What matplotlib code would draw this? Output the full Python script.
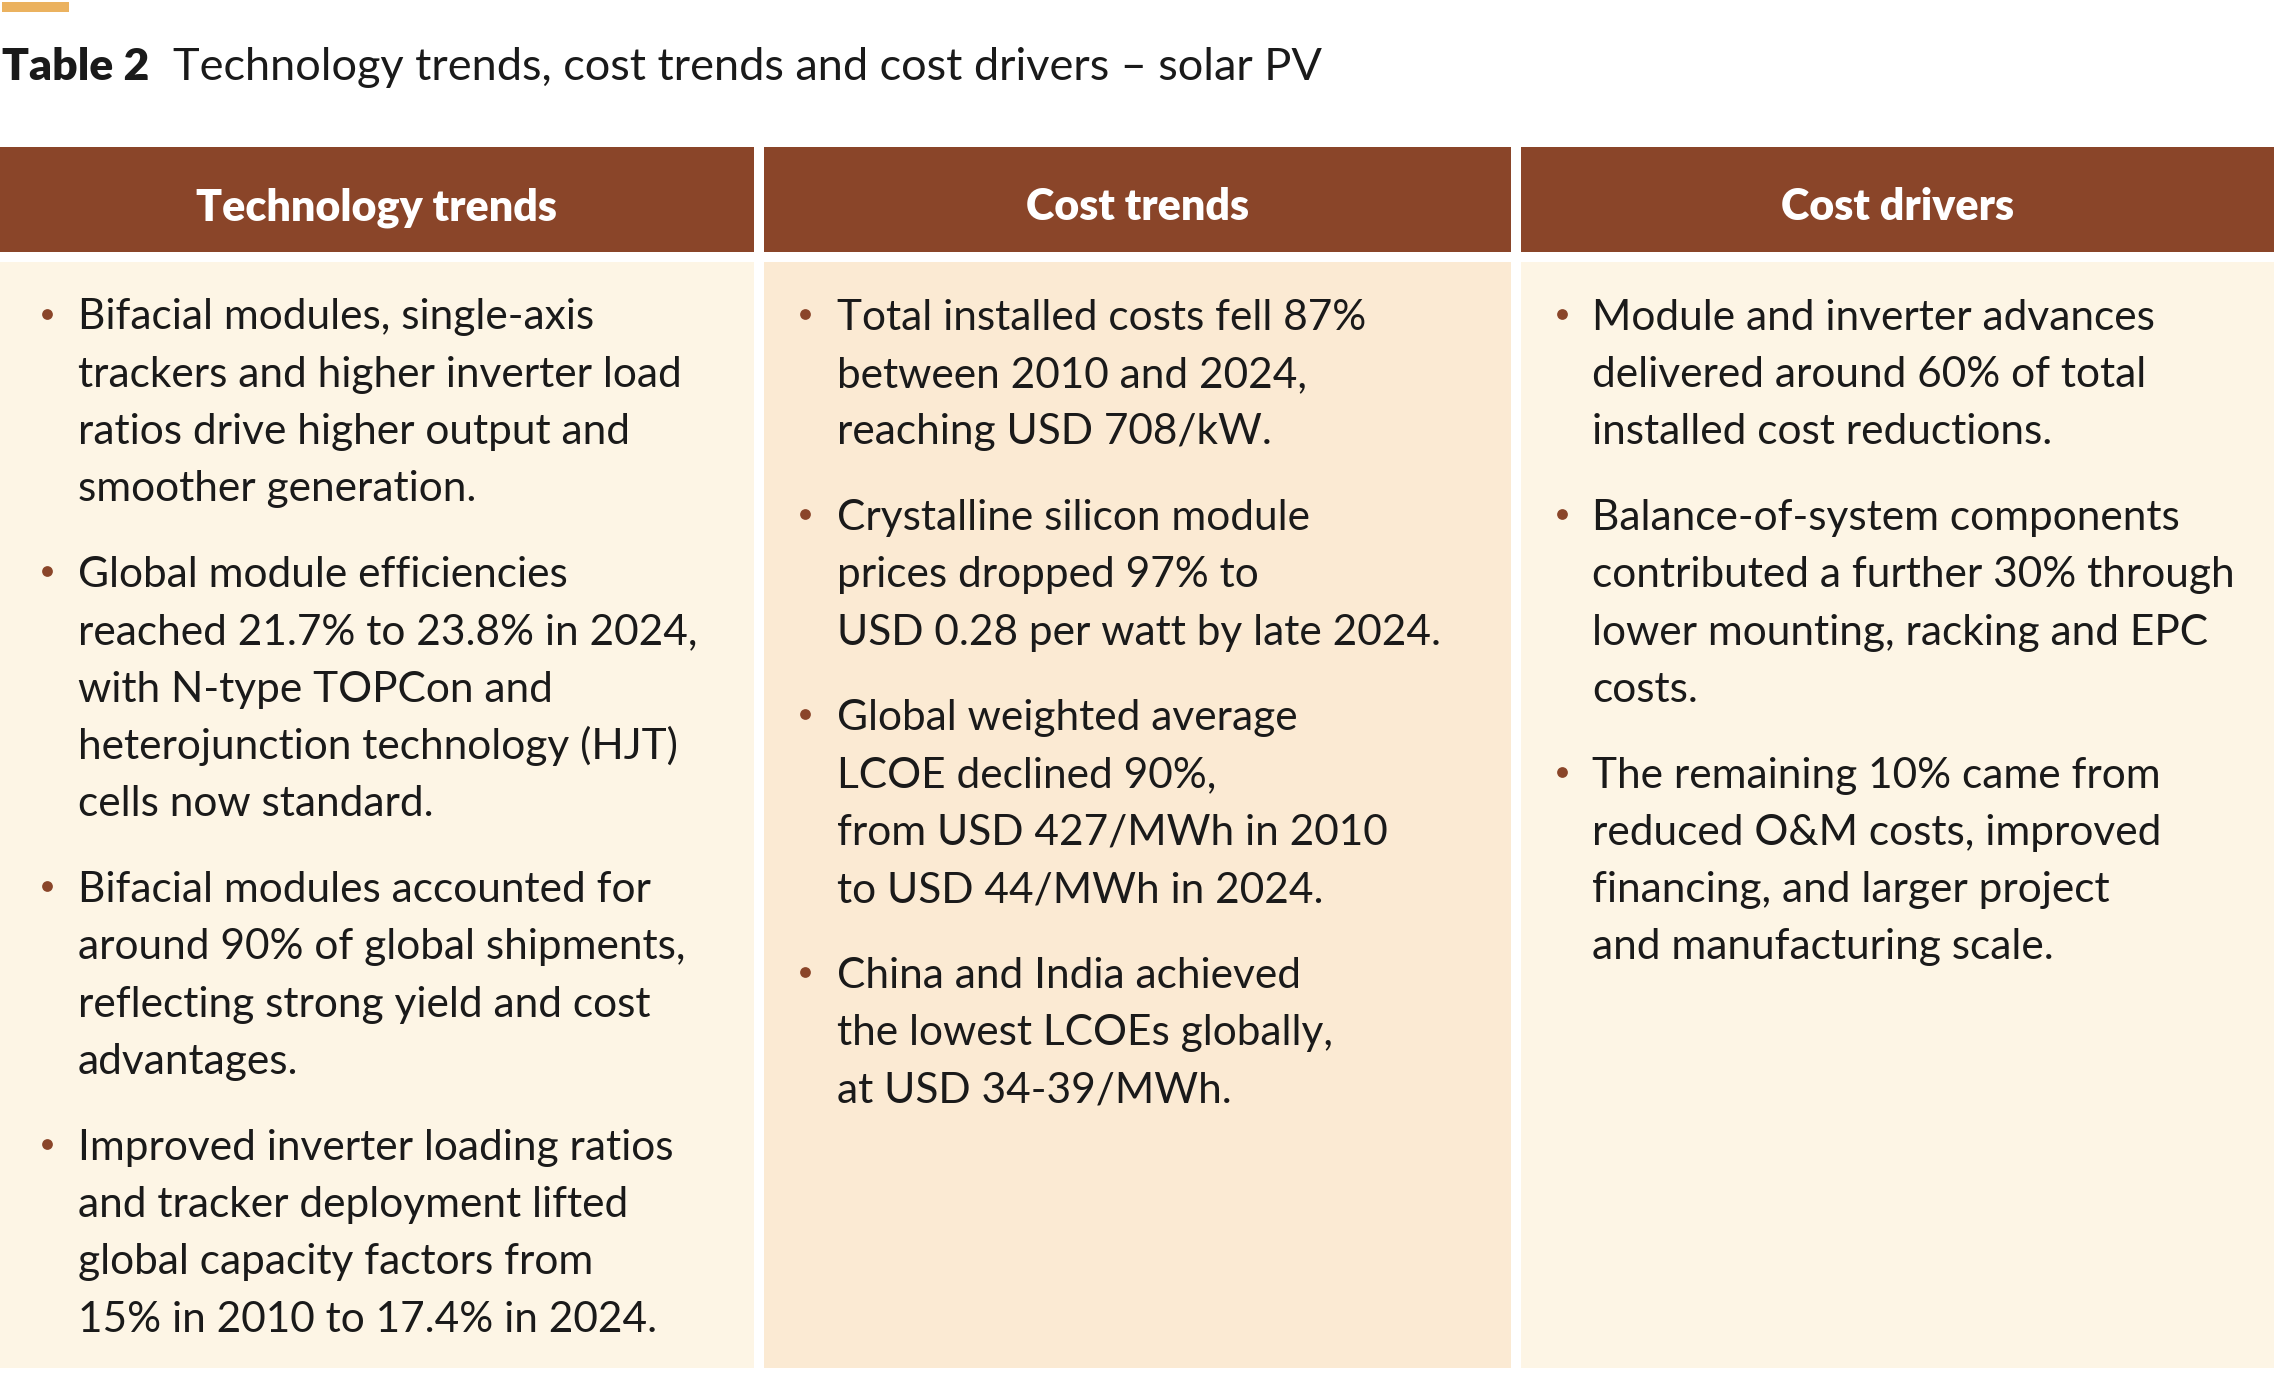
import matplotlib
matplotlib.use("Agg")
import matplotlib.pyplot as plt
from matplotlib.patches import Rectangle

# ---------------- data ----------------
title_label = "Table 2"
title_text = "Technology trends, cost trends and cost drivers \u2013 solar PV"
column_headers = ["Technology trends", "Cost trends", "Cost drivers"]

tech_trends = [
    ["Bifacial modules, single-axis", "trackers and higher inverter load",
     "ratios drive higher output and", "smoother generation."],
    ["Global module efficiencies", "reached 21.7% to 23.8% in 2024,",
     "with N-type TOPCon and", "heterojunction technology (HJT)",
     "cells now standard."],
    ["Bifacial modules accounted for", "around 90% of global shipments,",
     "reflecting strong yield and cost", "advantages."],
    ["Improved inverter loading ratios", "and tracker deployment lifted",
     "global capacity factors from", "15% in 2010 to 17.4% in 2024."],
]
cost_trends = [
    ["Total installed costs fell 87%", "between 2010 and 2024,",
     "reaching USD 708/kW."],
    ["Crystalline silicon module", "prices dropped 97% to",
     "USD 0.28 per watt by late 2024."],
    ["Global weighted average", "LCOE declined 90%,",
     "from USD 427/MWh in 2010", "to USD 44/MWh in 2024."],
    ["China and India achieved", "the lowest LCOEs globally,",
     "at USD 34-39/MWh."],
]
cost_drivers = [
    ["Module and inverter advances", "delivered around 60% of total",
     "installed cost reductions."],
    ["Balance-of-system components", "contributed a further 30% through",
     "lower mounting, racking and EPC", "costs."],
    ["The remaining 10% came from", "reduced O&M costs, improved",
     "financing, and larger project", "and manufacturing scale."],
]
columns_content = [tech_trends, cost_trends, cost_drivers]

# ---------------- style ----------------
W, H = 2274, 1374
FONT = ["Lato", "DejaVu Sans"]
HEADER_C = "#8A4529"
BODY_BG = ["#FDF5E5", "#FBEAD3", "#FDF5E5"]
TEXT_C = "#1A1A1A"
BULLET_C = "#8A4529"
ACCENT_C = "#EBB25F"

col_x = [(0, 754), (764, 1511), (1521, 2274)]
text_offsets = [78, 73, 71]
bullet_offsets = [47, 41, 41]
header_top, header_bot = 147, 252
body_top, body_bot = 262, 1368
first_baseline = 329.5
line_step = 57.3
para_gap = 28.5

fig = plt.figure(figsize=(W / 100, H / 100), dpi=100)
ax = fig.add_axes([0, 0, 1, 1])
ax.set_xlim(0, W)
ax.set_ylim(H, 0)
ax.axis("off")

# accent bar
ax.add_patch(Rectangle((2, 2), 67, 10, color=ACCENT_C, lw=0))

# title
ax.text(2, 80, title_label, fontsize=32, fontweight="heavy", family=FONT,
        color=TEXT_C, va="baseline", ha="left")
ax.text(173, 80, title_text, fontsize=32.5, family=FONT, color=TEXT_C,
        va="baseline", ha="left")

for i, (x0, x1) in enumerate(col_x):
    ax.add_patch(Rectangle((x0, header_top), x1 - x0, header_bot - header_top,
                           color=HEADER_C, lw=0))
    ax.add_patch(Rectangle((x0, body_top), x1 - x0, body_bot - body_top,
                           color=BODY_BG[i], lw=0))
    ax.text((x0 + x1) / 2, 220, column_headers[i], fontsize=31, fontweight="heavy",
            family=FONT, color="white", ha="center", va="baseline")
    y = first_baseline
    for para in columns_content[i]:
        ax.scatter([x0 + bullet_offsets[i]], [y - 16], s=60, color=BULLET_C, lw=0)
        for line in para:
            ax.text(x0 + text_offsets[i], y, line, fontsize=30.5, family=FONT,
                    color=TEXT_C, ha="left", va="baseline")
            y += line_step
        y += para_gap

fig.savefig("out.png", dpi=100, facecolor="white")
